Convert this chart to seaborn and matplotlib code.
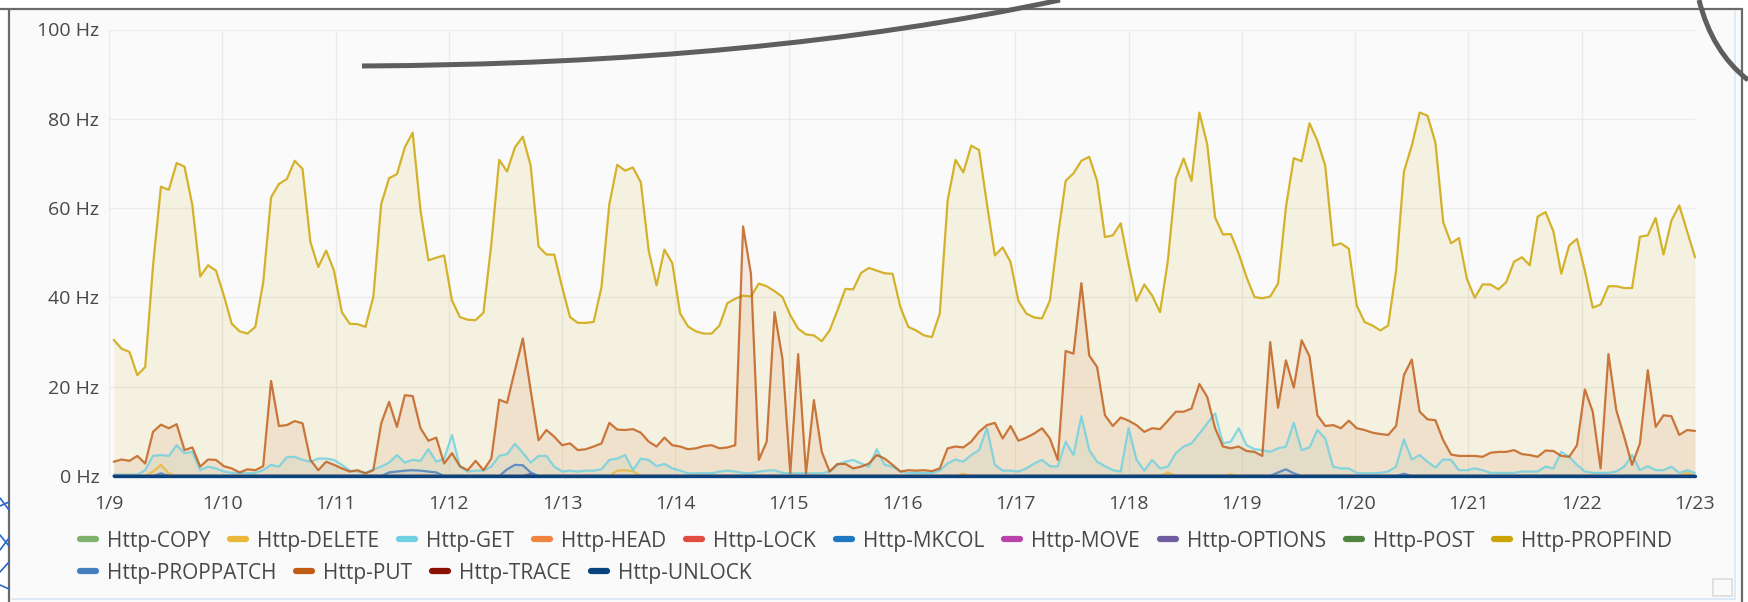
import numpy as np
import pandas as pd
import matplotlib
matplotlib.use("Agg")
import matplotlib.pyplot as plt
import seaborn as sns
from matplotlib.lines import Line2D
from matplotlib.patches import Rectangle, PathPatch
from matplotlib.path import Path

sns.set_theme(style="white")
plt.rcParams['font.family'] = ['Open Sans', 'DejaVu Sans']

# ---------------- data ----------------
SERIES = ["Http-COPY", "Http-DELETE", "Http-GET", "Http-HEAD", "Http-LOCK",
          "Http-MKCOL", "Http-MOVE", "Http-OPTIONS", "Http-POST", "Http-PROPFIND",
          "Http-PROPPATCH", "Http-PUT", "Http-TRACE", "Http-UNLOCK"]
COLORS = ["#7EB26D", "#EAB839", "#6ED0E0", "#EF843C", "#E24D42",
          "#1F78C1", "#BA43A9", "#705DA0", "#508642", "#CCA300",
          "#447EBF", "#C15C17", "#890F02", "#0A437C"]

START = "2017-01-09 01:00"
STEP = "100min"

PROPFIND = [
    30.5, 28.5, 27.8, 22.6, 24.4, 47.2, 64.8, 64.1, 70.1, 69.3, 60.6, 44.7, 47.2, 46.0,
    40.4, 34.1, 32.4, 31.9, 33.4, 43.4, 62.4, 65.4, 66.5, 70.6, 68.8, 52.4, 46.8, 50.5,
    46.0, 36.7, 34.1, 34.0, 33.4, 40.1, 60.9, 66.7, 67.6, 73.6, 76.9, 59.4, 48.3,
    48.9, 49.4, 39.3, 35.6, 35.0, 34.9, 36.6, 52.0, 70.8, 68.2, 73.6, 76.0, 69.5, 51.4,
    49.6, 49.6, 42.3, 35.6, 34.3, 34.3, 34.5, 42.3, 60.9, 69.7, 68.4, 69.1, 65.8, 50.5,
    42.7, 50.7, 47.7, 36.4, 33.5, 32.4, 31.9, 31.9, 33.7, 38.7, 39.7, 40.4, 40.2,
    43.1, 42.5, 41.4, 40.1, 36.0, 33.0, 31.7, 31.5, 30.2, 32.6, 37.1, 41.9, 41.8, 45.5,
    46.6, 46.0, 45.4, 45.3, 37.8, 33.4, 32.6, 31.5, 31.1, 36.4, 61.7, 70.8, 68.0, 74.0,
    73.0, 60.9, 49.4, 51.2, 47.9, 39.2, 36.4, 35.5, 35.3, 39.3, 53.5, 66.1,
    67.8, 70.6, 71.5, 66.1, 53.5, 53.9, 56.6, 47.5, 39.2, 42.9, 40.4, 36.7, 48.3, 66.5,
    71.1, 66.1, 81.4, 74.3, 57.9, 54.1, 54.2, 49.8, 44.5, 40.1, 39.8, 40.2, 43.1, 60.2,
    71.2, 70.5, 79.0, 75.1, 69.5, 51.6, 52.1, 50.9, 38.2, 34.5, 33.7, 32.6, 33.7,
    46.0, 68.2, 74.0, 81.4, 80.7, 74.7, 56.8, 52.1, 53.3, 44.2, 39.9, 42.9, 42.9, 41.8,
    43.4, 48.0, 49.0, 47.2, 58.1, 59.1, 54.8, 45.3, 51.6, 53.1, 46.0, 37.7, 38.4, 42.5,
    42.5, 42.1, 42.1, 53.6, 53.9, 57.8, 49.6, 57.2, 60.6, 54.8, 49.0]

PUT = [
    3.2, 3.7, 3.4, 4.5, 2.8, 9.9, 11.5, 10.7, 11.6, 5.8, 6.4, 2.1, 3.7, 3.6,
    2.2, 1.7, 0.8, 1.5, 1.3, 2.2, 21.3, 11.2, 11.4, 12.3, 11.8, 3.6, 1.3, 3.2,
    2.5, 1.7, 1.0, 1.3, 0.6, 1.3, 11.8, 16.6, 11.0, 18.1, 17.9, 10.7, 7.9,
    8.6, 2.8, 5.1, 2.2, 1.3, 3.4, 1.3, 3.9, 17.1, 16.4, 23.7, 30.8, 19.2, 8.0,
    10.3, 8.8, 6.9, 7.3, 5.8, 6.0, 6.6, 7.3, 11.9, 10.4, 10.3, 10.5, 9.7, 7.7,
    6.6, 8.6, 6.9, 6.6, 6.0, 6.2, 6.7, 6.9, 6.2, 6.4, 6.9, 55.9, 45.3,
    3.6, 7.7, 36.7, 26.3, 0.6, 27.3, 0.6, 17.0, 5.4, 1.0, 2.7, 2.7, 1.7, 2.1,
    2.8, 4.7, 3.9, 2.5, 1.0, 1.3, 1.2, 1.3, 1.1, 1.7, 6.2, 6.6, 6.4, 7.7,
    9.9, 11.4, 11.9, 8.4, 11.2, 7.9, 8.6, 9.5, 10.7, 8.4, 3.6, 28.0,
    27.4, 43.2, 27.0, 24.4, 13.6, 11.2, 13.1, 12.4, 11.4, 9.9, 10.7, 10.5, 12.4, 14.4,
    14.4, 15.1, 20.6, 17.7, 10.7, 6.6, 6.2, 6.6, 5.6, 5.4, 4.5, 30.0, 15.3, 25.9,
    19.8, 30.4, 26.8, 13.6, 11.2, 11.4, 10.7, 12.4, 10.7, 10.3, 9.7, 9.4, 9.2,
    11.2, 22.6, 26.1, 14.4, 12.7, 12.5, 8.0, 4.8, 4.5, 4.5, 4.5, 4.3, 5.2, 5.4,
    5.4, 5.8, 4.9, 4.7, 4.3, 5.7, 5.6, 4.5, 4.3, 6.9, 19.4, 14.4, 1.7, 27.3,
    14.7, 8.8, 2.5, 7.3, 23.7, 11.0, 13.6, 13.4, 9.2, 10.3, 10.1]

GET = [
    0.3, 0.3, 0.3, 0.3, 1.3, 4.5, 4.7, 4.5, 6.9, 5.1, 5.4, 1.3, 2.1, 1.7,
    1.0, 0.7, 0.7, 0.6, 0.7, 1.3, 2.5, 2.1, 4.2, 4.3, 3.6, 3.2, 3.9, 3.9,
    3.6, 2.5, 1.2, 1.0, 0.7, 1.5, 2.1, 3.0, 4.7, 3.0, 3.6, 3.4, 6.0,
    3.2, 3.9, 9.2, 2.1, 1.0, 1.2, 1.2, 2.1, 4.5, 4.9, 7.2, 5.2, 3.0, 4.5,
    4.5, 2.1, 1.0, 1.2, 1.0, 1.2, 1.2, 1.5, 3.6, 3.9, 4.7, 1.3, 3.9, 3.6,
    2.2, 2.7, 1.7, 1.2, 0.6, 0.6, 0.7, 0.6, 1.0, 1.2, 1.0, 0.7, 0.6,
    1.0, 1.2, 1.3, 0.7, 0.6, 0.6, 0.6, 0.6, 0.6, 1.0, 2.5, 3.2, 3.6, 2.8,
    2.1, 6.0, 2.5, 2.1, 1.0, 0.7, 0.7, 0.7, 0.7, 1.2, 2.8, 3.7, 3.2, 4.7,
    5.8, 10.7, 2.5, 1.2, 1.2, 1.0, 1.7, 2.8, 3.6, 2.2, 2.1, 7.7,
    4.7, 13.4, 5.8, 3.2, 2.2, 1.3, 1.0, 10.7, 3.7, 1.2, 3.6, 1.7, 2.1, 5.1,
    6.6, 7.3, 9.5, 11.8, 14.0, 7.3, 7.7, 10.7, 6.9, 6.0, 5.8, 5.4, 6.2, 6.6,
    11.9, 5.8, 6.4, 10.3, 8.4, 2.1, 1.7, 1.7, 0.7, 0.6, 0.6, 0.7, 1.0,
    2.1, 8.2, 3.7, 4.7, 3.2, 1.9, 3.7, 3.6, 1.3, 1.3, 1.7, 1.3, 0.7, 0.7,
    0.7, 0.7, 1.0, 1.0, 1.0, 2.1, 1.7, 5.4, 4.3, 2.5, 1.0, 0.7, 0.7, 0.7,
    1.0, 2.1, 4.7, 1.3, 2.2, 1.3, 1.3, 2.1, 0.7, 1.3, 0.7]

# small, mostly-zero series: (sample index -> value)
DELETE_BUMPS = {5: 1.0, 6: 2.5, 7: 0.6, 64: 1.2, 65: 1.3, 66: 1.1, 108: 0.5,
                134: 0.8, 142: 0.4, 200: 0.8}
PROPPATCH_BUMPS = {6: 0.6, 35: 0.8, 36: 1.0, 37: 1.2, 38: 1.3, 39: 1.2, 40: 1.0,
                   41: 0.8, 50: 1.5, 51: 2.5, 52: 2.4, 53: 0.8, 148: 0.8,
                   149: 1.5, 150: 0.6, 164: 0.5}
OPTIONS_BUMPS = {53: 0.5}

Y_TICKS = [0, 20, 40, 60, 80, 100]
Y_TICK_LABELS = ["0 Hz", "20 Hz", "40 Hz", "60 Hz", "80 Hz", "100 Hz"]
X_TICK_DATES = pd.date_range("2017-01-09", "2017-01-23", freq="D")
X_TICK_LABELS = ["1/9", "1/10", "1/11", "1/12", "1/13", "1/14", "1/15", "1/16",
                 "1/17", "1/18", "1/19", "1/20", "1/21", "1/22", "1/23"]

# ---------------- assemble ----------------
N = len(PROPFIND)
times = pd.date_range(START, periods=N, freq=STEP)


def from_bumps(bumps):
    arr = np.zeros(N)
    for k, v in bumps.items():
        arr[k] = v
    return arr


values = {name: np.zeros(N) for name in SERIES}
values["Http-PROPFIND"] = np.array(PROPFIND)
values["Http-PUT"] = np.array(PUT)
values["Http-GET"] = np.array(GET)
values["Http-DELETE"] = from_bumps(DELETE_BUMPS)
values["Http-PROPPATCH"] = from_bumps(PROPPATCH_BUMPS)
values["Http-OPTIONS"] = from_bumps(OPTIONS_BUMPS)

df = pd.concat([pd.DataFrame({"time": times, "value": values[s], "series": s})
                for s in SERIES], ignore_index=True)
palette = dict(zip(SERIES, COLORS))

# ---------------- figure ----------------
W, H = 1748, 602
fig = plt.figure(figsize=(W / 100, H / 100), dpi=100, facecolor="white")


def fx(px):
    return px / W


def fy(py):
    return 1 - py / H


# panel background and frame
fig.add_artist(Rectangle((fx(9), 0), fx(1742 - 9), 1 - 9 / H, transform=fig.transFigure,
                         facecolor="#fafafa", edgecolor="none", zorder=0))
frame_kw = dict(transform=fig.transFigure, color="#6a6a6a", lw=1.6, zorder=5)
fig.add_artist(Line2D([fx(0), fx(1742)], [fy(9), fy(9)], **frame_kw))
fig.add_artist(Line2D([fx(9), fx(9)], [fy(9), 0], **frame_kw))
fig.add_artist(Line2D([fx(1742), fx(1742)], [fy(9), 0], **frame_kw))
inner_kw = dict(transform=fig.transFigure, color="#dce9f7", lw=1.4, zorder=4)
fig.add_artist(Line2D([fx(1735), fx(1735)], [fy(12), fy(599)], **inner_kw))
fig.add_artist(Line2D([fx(12), fx(1735)], [fy(599), fy(599)], **inner_kw))
fig.add_artist(Rectangle((fx(1713), fy(596)), fx(19), 17 / H, transform=fig.transFigure,
                         facecolor="none", edgecolor="#dddddd", lw=1.2, zorder=4))

ax = fig.add_axes([fx(109), fy(476), fx(1695 - 109), (476 - 29.5) / H])
ax.set_facecolor("#fafafa")

for s, c in zip(SERIES, COLORS):
    ax.fill_between(times, 0, values[s], color=c, alpha=0.1, lw=0, zorder=1)

sns.lineplot(data=df, x="time", y="value", hue="series", hue_order=SERIES,
             palette=palette, linewidth=1.6, legend=False, estimator=None,
             ax=ax, zorder=2, alpha=0.82)
for ln in ax.lines:
    ln.set_clip_on(False)
# the baseline series (last drawn) shows as a solid dark line at 0 Hz
ax.lines[-1].set_alpha(1.0)
ax.lines[-1].set_linewidth(2.4)

ax.set_xlim(pd.Timestamp("2017-01-09"), pd.Timestamp("2017-01-23"))
ax.set_ylim(0, 100)
ax.set_yticks(Y_TICKS)
ax.set_yticklabels(Y_TICK_LABELS)
ax.set_xticks(X_TICK_DATES)
ax.set_xticklabels(X_TICK_LABELS)
ax.set_xlabel("")
ax.set_ylabel("")
ax.grid(True, color="#ebebeb", lw=1.0)
ax.set_axisbelow(True)
for sp in ax.spines.values():
    sp.set_visible(False)
ax.tick_params(axis="both", length=0, labelsize=14, labelcolor="#484848")
ax.tick_params(axis="x", pad=14)
ax.tick_params(axis="y", pad=7)

# legend: two flowing rows
handles = [Line2D([], [], color=c, lw=4.5, solid_capstyle="round") for c in COLORS]
leg_kw = dict(loc="center left", frameon=False, fontsize=15, handlelength=0.77,
              handletextpad=0.53, columnspacing=0.95, borderpad=0, borderaxespad=0,
              labelcolor="#484848")
leg1 = fig.legend(handles[:10], SERIES[:10], ncol=10,
                  bbox_to_anchor=(fx(80), fy(541)), **leg_kw)
leg2 = fig.legend(handles[10:], SERIES[10:], ncol=4,
                  bbox_to_anchor=(fx(80), fy(573)), **leg_kw)

# hand-drawn annotation strokes seen on the screenshot
def fig_curve(pts):
    verts = [(fx(x), fy(y)) for x, y in pts]
    codes = [Path.MOVETO] + [Path.CURVE3] * (len(pts) - 1)
    return PathPatch(Path(verts, codes), transform=fig.transFigure, facecolor="none",
                     edgecolor="#5e5e5e", lw=3.6, zorder=6, capstyle="butt")


fig.add_artist(fig_curve([(362, 66), (760, 64), (1060, 0)]))
fig.add_artist(fig_curve([(1699, 0), (1712, 52), (1748, 80)]))
blue_kw = dict(transform=fig.transFigure, color="#2a66c8", lw=1.2, zorder=6)
for xs, ys in [([0, 9], [498, 510]), ([0, 9], [506, 502]), ([0, 9], [535, 546]),
               ([0, 9], [550, 538]), ([0, 9], [572, 562]), ([0, 9], [585, 589])]:
    fig.add_artist(Line2D([fx(v) for v in xs], [fy(v) for v in ys], **blue_kw))

fig.savefig("out.png", dpi=100, facecolor="white")
